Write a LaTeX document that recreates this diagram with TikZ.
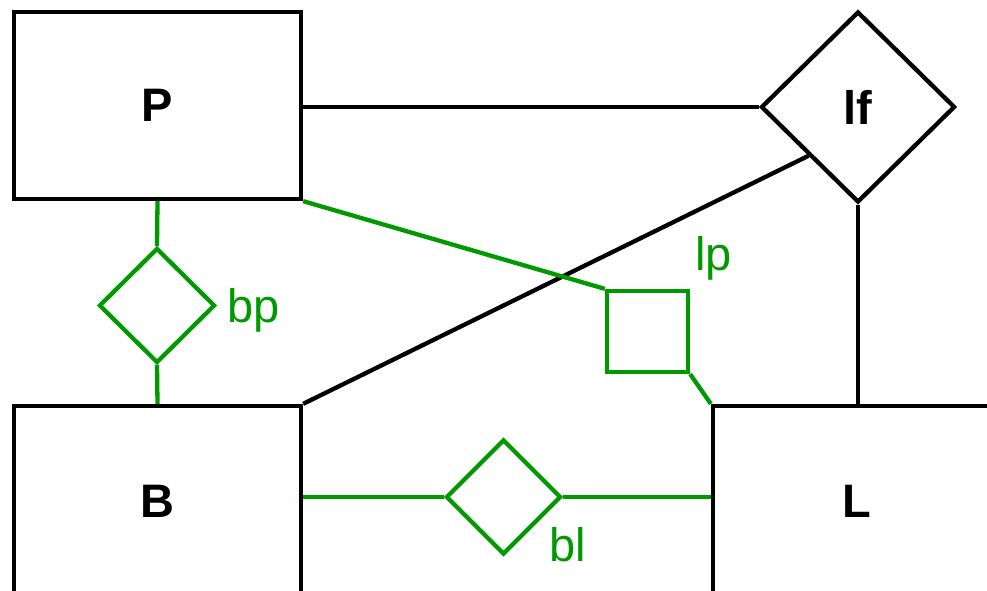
\documentclass[tikz,border=0pt]{standalone}
\usepackage{fontspec}
\setmainfont{Liberation Sans}
\usetikzlibrary{shapes.geometric,calc}
\definecolor{erg}{RGB}{0,153,0}
\tikzset{
  ent/.style={draw=black, line width=4.3pt, rectangle, minimum width=287pt, inner sep=0pt, font=\fontsize{47}{55}\selectfont\bfseries},
  rel/.style={draw=black, line width=4.3pt, diamond, inner sep=0pt, font=\fontsize{47}{55}\selectfont\bfseries},
  grel/.style={draw=erg, line width=4.3pt, diamond, inner sep=0pt},
  gbox/.style={draw=erg, line width=4.3pt, rectangle, inner sep=0pt, minimum width=81pt, minimum height=81pt},
  blk/.style={draw=black, line width=4.3pt},
  grn/.style={draw=erg, line width=4.3pt},
  glab/.style={text=erg, font=\fontsize{47}{55}\selectfont, inner sep=0pt, anchor=base west}
}
\begin{document}
\begin{tikzpicture}[x=1pt,y=-1pt]
\useasboundingbox (0,0) rectangle (987,591);
\clip (0,0) rectangle (987,591);
% entities
\node[ent, minimum height=187pt] (P) at (157.5,105.5) {P};
\node[ent, minimum height=190pt] (B) at (157.5,501) {B};
\node[ent, minimum height=190pt] (L) at (856.5,501) {L};
% relations
\node[rel, minimum width=194pt, minimum height=191pt] (lf) at (858,107) {lf};
\node[grel, minimum width=116pt, minimum height=115pt] (bp) at (157,305.5) {};
\node[grel, minimum width=115pt, minimum height=115pt] (bl) at (503.5,497) {};
\node[gbox] (lp) at (647.5,331.5) {};
% labels
\node[glab] (bpl) at (227,322) {bp};
\node[glab] (lpl) at (695,270) {lp};
\node[glab] (bll) at (549,561) {bl};
% black connectors
\draw[blk] (lf.west) -- (lf.west -| P.east);
\draw[blk] (B.north east) -- ($(lf.west)!0.5!(lf.south)$);
\draw[blk] (lf.south) -- (lf.south |- L.north);
% green connectors
\draw[grn] (P.south) -- (bp.north);
\draw[grn] (bp.south) -- (B.north);
\draw[grn] (P.south east) -- (lp.north west);
\draw[grn] (lp.south east) -- (L.north west);
\draw[grn] (bl.west -| B.east) -- (bl.west);
\draw[grn] (bl.east) -- (bl.east -| L.west);
\end{tikzpicture}
\end{document}
